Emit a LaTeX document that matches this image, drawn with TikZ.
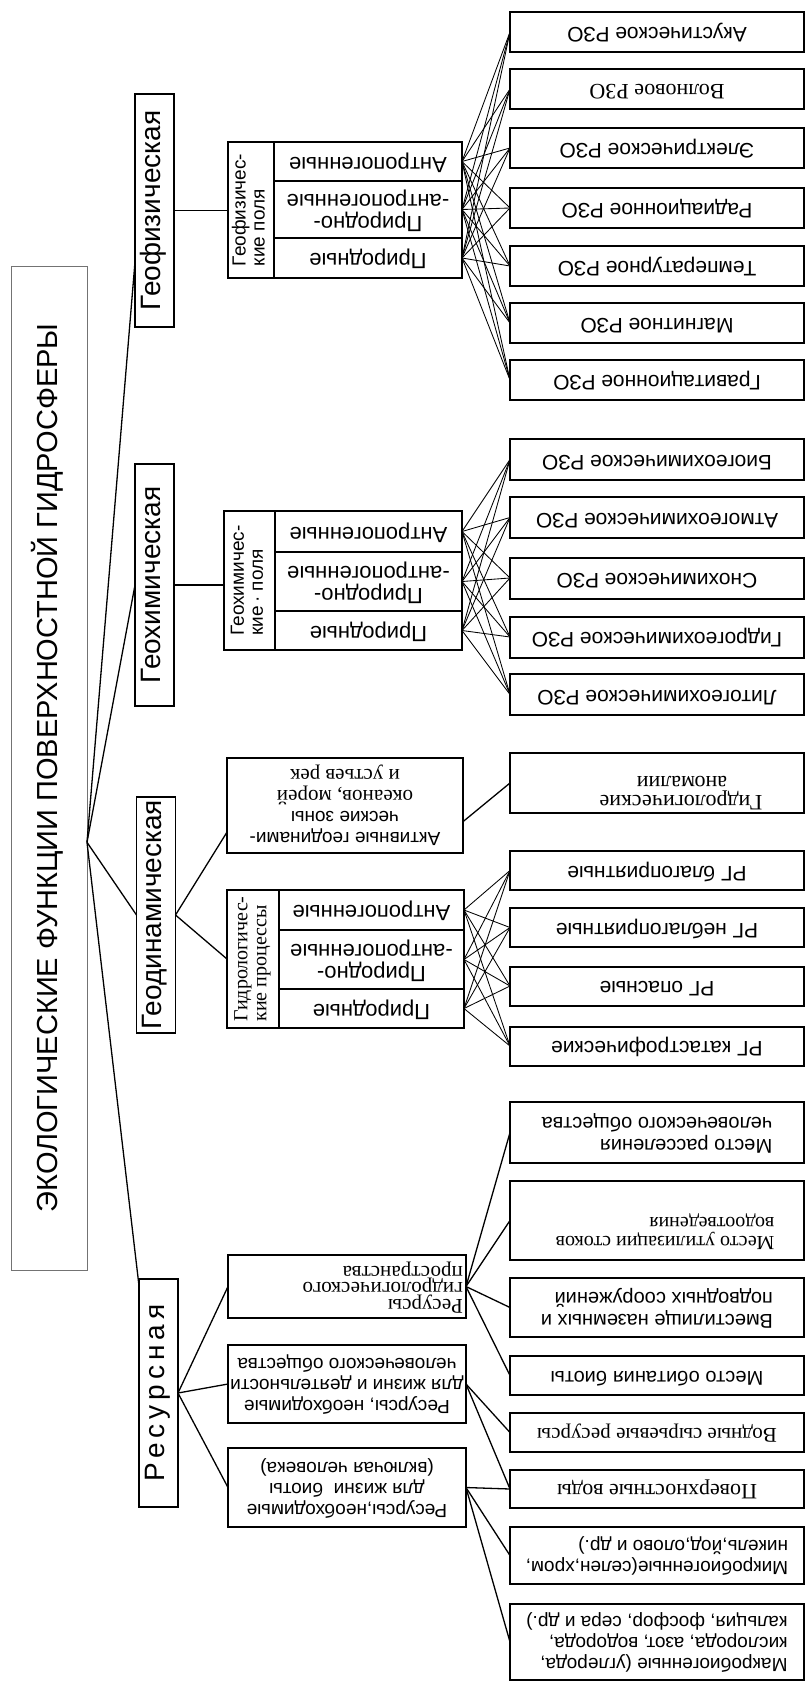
\documentclass[tikz,border=0pt]{standalone}
\usepackage{graphicx}
\usepackage{fontspec}
\setmainfont{Liberation Sans}
\newfontfamily\fserif{Liberation Serif}
\usetikzlibrary{calc}

% text turned upside down / turned to read bottom-to-top
\newcommand{\UD}[2][c]{\rotatebox[origin=c]{180}{\begin{tabular}{@{}#1@{}}#2\end{tabular}}}
\newcommand{\VU}[2][c]{\rotatebox[origin=c]{90}{\begin{tabular}{@{}#1@{}}#2\end{tabular}}}
\newcommand{\fs}[2]{\fontsize{#1}{#2}\selectfont}

\tikzset{
  cell/.style={draw, line width=1.5pt, inner sep=0pt, outer sep=0pt, align=center},
  titlebox/.style={draw=black!55, line width=0.8pt, inner sep=0pt, outer sep=0pt},
  funcbox/.style={cell, minimum width=39pt, font=\fs{28}{28}},
  colcell/.style={cell, font=\fs{19}{19}},
  rowcell/.style={cell, font=\fs{22}{22}},
  midbox/.style={cell, minimum width=238pt, font=\fs{19}{21}},
  leaf/.style={cell, line width=2pt, minimum width=294pt, font=\fs{21}{22}},
  link/.style={line width=1.3pt},
  mesh/.style={line width=0.85pt},
}

\begin{document}
\begin{tikzpicture}[x=1pt, y=-1pt]
\useasboundingbox (0,0) rectangle (810,1691);

% ---------- root ----------
\node[titlebox, minimum width=76pt, minimum height=1004pt] (title) at (49,768)
  {\fs{29}{30}\VU{ЭКОЛОГИЧЕСКИЕ ФУНКЦИИ ПОВЕРХНОСТНОЙ ГИДРОСФЕРЫ}};
\coordinate (br) at ($(title.north east)!0.574!(title.south east)$);

% ---------- the four functions ----------
\node[funcbox, minimum height=233pt] (geoph) at (154.5,210.5) {\VU{Геофизическая}};
\node[funcbox, minimum height=242pt] (geoch) at (154.5,585) {\VU{Геохимическая}};
\node[funcbox, minimum height=236pt] (geodyn) at (156,915) {\VU{Геодинамическая}};
\node[funcbox, minimum height=228pt] (res) at (158.5,1393)
  {\VU{\addfontfeature{LetterSpace=18}Ресурсная}};

\draw[link] (br) -- ($(geoph.north west)!0.72!(geoph.south west)$);
\draw[link] (br) -- (geoch.west);
\draw[link] (br) -- (geodyn.west);
\draw[link] (br) -- ($(res.north west)!0.03!(res.south west)$);

% ---------- geophysical fields ----------
\node[colcell, minimum width=46pt, minimum height=136pt] (gf1) at (251,210)
  {\VU[l]{Геофизичес-\\кие поля}};
\node[rowcell, minimum width=188pt, minimum height=39pt] (g1a) at (368,161.5) {\UD{Антропогенные}};
\node[rowcell, minimum width=188pt, minimum height=57pt] (g1b) at (368,209.5) {\UD{Природно-\\-антропогенные}};
\node[rowcell, minimum width=188pt, minimum height=40pt] (g1c) at (368,258) {\UD{Природные}};
\draw[link] (geoph.east) -- (geoph.east -| gf1.west);

\node[leaf, minimum height=40pt] (p1) at (657,32)  {\UD{Акустическое РЗО}};
\node[leaf, minimum height=40pt] (p2) at (657,89)  {\fserif\fs{22}{22}\UD{Волновое РЗО}};
\node[leaf, minimum height=40pt] (p3) at (657,148) {\UD{Электрическое РЗО}};
\node[leaf, minimum height=40pt] (p4) at (657,208) {\UD{Радиационное РЗО}};
\node[leaf, minimum height=40pt] (p5) at (657,266) {\UD{Температурное РЗО}};
\node[leaf, minimum height=40pt] (p6) at (657,323) {\UD{Магнитное РЗО}};
\node[leaf, minimum height=40pt] (p7) at (657,380) {\UD{Гравитационное РЗО}};
\foreach \r in {g1a,g1b,g1c}
  \foreach \l in {p1,p2,p3,p4,p5,p6,p7}
    \draw[mesh] (\r.east) -- (\l.west);

% ---------- geochemical fields ----------
\node[colcell, minimum width=51pt, minimum height=139pt] (gf2) at (249.5,580.5)
  {\VU[l]{Геохимичес-\\кие\,· поля}};
\node[rowcell, minimum width=187pt, minimum height=41pt] (g2a) at (368.5,531.5) {\UD{Антропогенные}};
\node[rowcell, minimum width=187pt, minimum height=59pt] (g2b) at (368.5,581.5) {\UD{Природно-\\-антропогенные}};
\node[rowcell, minimum width=187pt, minimum height=39pt] (g2c) at (368.5,630.5) {\UD{Природные}};
\draw[link] (geoch.east) -- (geoch.east -| gf2.west);

\node[leaf, minimum height=41pt] (c1) at (657,459.5) {\UD{Биогеохимическое РЗО}};
\node[leaf, minimum height=41pt] (c2) at (657,517.5) {\UD{Атмогеохимическое РЗО}};
\node[leaf, minimum height=41pt] (c3) at (657,578)   {\UD{Снохимическое РЗО}};
\node[leaf, minimum height=41pt] (c4) at (657,637)   {\UD{Гидрогеохимическое РЗО}};
\node[leaf, minimum height=41pt] (c5) at (657,694.5) {\UD{Литогеохимическое РЗО}};
\foreach \r in {g2a,g2b,g2c}
  \foreach \l in {c1,c2,c3,c4,c5}
    \draw[mesh] (\r.east) -- (\l.west);

% ---------- geodynamic ----------
\node[cell, minimum width=236pt, minimum height=95pt, font=\fs{19}{21}] (act) at (345,805.5)
  {\UD{Активные геодинами-\\ческие зоны\\{\fserif\fs{21}{21}океанов, морей}\\{\fserif\fs{21}{21}и устьев рек}}};
\node[leaf, minimum height=60pt] (anom) at (657,783) {};
\node[font=\fserif\fs{22}{19}, inner sep=0pt] (anomt) at (681,790)
  {\UD[l]{Гидрологические\\\hspace{1.6em}аномалии}};
\draw[link] (geodyn.east) -- ($(act.north west)!0.78!(act.south west)$);
\draw[link] ($(act.north east)!0.67!(act.south east)$) -- (anom.west);

\node[colcell, minimum width=52pt, minimum height=138pt, font=\fserif\fs{20}{19}] (gf3) at (253,959)
  {\VU[l]{Гидрологичес-\\кие процессы}};
\node[rowcell, minimum width=185pt, minimum height=40pt] (g3a) at (371.5,910) {\UD{Антропогенные}};
\node[rowcell, minimum width=185pt, minimum height=59pt] (g3b) at (371.5,959.5) {\UD{Природно-\\-антропогенные}};
\node[rowcell, minimum width=185pt, minimum height=39pt] (g3c) at (371.5,1008.5) {\UD{Природные}};
\draw[link] (geodyn.east) -- (gf3.west);

\node[leaf, minimum height=39pt] (d1) at (657,870.5) {\UD{РГ благоприятные}};
\node[leaf, minimum height=39pt] (d2) at (657,927.5) {\UD{РГ неблагоприятные}};
\node[leaf, minimum height=39pt] (d3) at (657,986)   {\UD{РГ опасные}};
\node[leaf, minimum height=39pt] (d4) at (657,1046)  {\UD{РГ катастрофические}};
\foreach \r in {g3a,g3b,g3c}
  \foreach \l in {d1,d2,d3,d4}
    \draw[mesh] (\r.east) -- (\l.west);

% ---------- resources ----------
\node[midbox, minimum height=63pt] (sp) at (347,1286.5) {};
\node[font=\fserif\fs{21}{16.5}, inner sep=0pt, anchor=east] (spt) at (463,1287)
  {\UD[l]{Ресурсы\\гидрологического\\пространства}};
\node[midbox, minimum height=78pt] (dea) at (347,1384)
  {\UD{Ресурсы, необходимые\\для жизни и деятельности\\человеческого общества}};
\node[midbox, minimum height=79pt] (bio) at (347,1487.5)
  {\UD{Ресурсы,необходимые\\для жизни\ \ биоты\\(включая человека)}};
\draw[link] (res.east) -- (sp.west);
\draw[link] (res.east) -- (dea.west);
\draw[link] (res.east) -- (bio.west);

\node[leaf, minimum height=61pt, font=\fs{20}{22}] (r1) at (657,1132.5)
  {\UD[l]{Место расселения\\человеческого общества}};
\node[leaf, minimum height=79pt] (r2) at (657,1220.5) {};
\node[font=\fserif\fs{20}{19}, inner sep=0pt] (r2t) at (665,1231)
  {\UD[l]{Место утилизации стоков\\водоотведения}};
\node[leaf, minimum height=59pt, font=\fs{20}{22}] (r3) at (657,1307.5)
  {\UD[l]{Вместилище наземных и\\подводных сооружений}};
\node[leaf, minimum height=39pt, font=\fs{20}{22}] (r4) at (657,1375.5) {\UD{Место обитания биоты}};
\node[leaf, minimum height=39pt, font=\fserif\fs{21}{22}] (r5) at (657,1432.5) {\UD{Водные сырьевые ресурсы}};
\node[leaf, minimum height=38pt, font=\fserif\fs{22}{22}] (r6) at (657,1489) {\UD{Поверхностные воды}};
\node[leaf, minimum height=57pt, font=\fs{19}{21}] (r7) at (657,1555.5)
  {\UD[l]{Микробиогенные(селен,хром,\\никель,йод,олово и др.)}};
\node[leaf, minimum height=76pt, font=\fs{19}{21}] (r8) at (657,1642)
  {\UD[l]{Макробиогенные (углерода,\\кислорода, азот, водорода,\\кальция, фосфор, сера и др.)}};

\foreach \l in {r1,r2,r3,r4}
  \draw[link] (sp.east) -- (\l.west);
\foreach \l in {r5,r6}
  \draw[link] (dea.east) -- (\l.west);
\foreach \l in {r6,r7,r8}
  \draw[link] (bio.east) -- (\l.west);
\end{tikzpicture}
\end{document}
